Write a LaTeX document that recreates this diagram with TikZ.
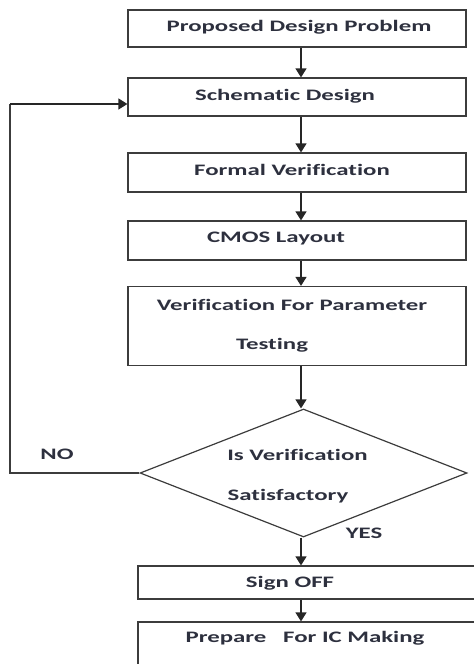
\documentclass[tikz,border=0pt]{standalone}
\usepackage{fontspec}
\setmainfont[FakeStretch=1.55,Ligatures=NoCommon]{Carlito}
\usetikzlibrary{arrows.meta,shapes.geometric}
\definecolor{txt}{RGB}{45,48,62}
\definecolor{ln}{RGB}{60,60,60}
\tikzset{
  box/.style={draw=ln,line width=1.2bp,minimum width=338bp,inner sep=0pt},
  lbl/.style={text=txt,font=\fontsize{16bp}{19bp}\selectfont\bfseries,inner sep=0pt,anchor=center},
  arr/.style={draw=black!85,line width=1.3bp,-{Triangle[width=11bp,length=9bp]}},
  lin/.style={draw=ln,line width=1.2bp}
}
\begin{document}
\begin{tikzpicture}[x=1bp,y=-1bp]
\useasboundingbox (0,0) rectangle (474,664);
% boxes
\node[box,minimum height=37bp] (b1) at (297,28.5) {};
\node[box,minimum height=38bp] (b2) at (297,97) {};
\node[box,minimum height=39bp] (b3) at (297,172.5) {};
\node[box,minimum height=39bp] (b4) at (297,240.5) {};
\node[box,minimum height=79bp] (b5) at (297,326) {};
\node[draw=ln,line width=1.2bp,diamond,minimum width=327bp,minimum height=128bp,inner sep=0pt] (d) at (303.5,473) {};
\node[box,minimum width=342bp,minimum height=33bp] (b6) at (309,582.5) {};
\node[box,minimum width=342bp,minimum height=48bp] (b7) at (309,646) {};
% texts
\node[lbl] (t1) at (299,27) {Proposed Design Problem};
\node[lbl] (t2) at (285,96) {Schematic Design};
\node[lbl] (t3) at (292,170) {Formal Verification};
\node[lbl] (t4) at (276,239) {CMOS Layout};
\node[lbl] (t5a) at (292,305) {Verification For Parameter};
\node[lbl] (t5b) at (272,345) {Testing};
\node[lbl] (td1) at (297.5,455) {Is Verification};
\node[lbl] (td2) at (288,496) {Satisfactory};
\node[lbl] (no) at (57,454) {NO};
\node[lbl] (yes) at (364,533) {YES};
\node[lbl] (t6) at (290,583) {Sign OFF};
\node[lbl] (t7) at (305,638) {Prepare\ \ \ For IC Making};
% connectors
\coordinate (ax) at (301,0);
\draw[arr] (b1.south -| ax) -- (b2.north -| ax);
\draw[arr] (b2.south -| ax) -- (b3.north -| ax);
\draw[arr] (b3.south -| ax) -- (b4.north -| ax);
\draw[arr] (b4.south -| ax) -- (b5.north -| ax);
\draw[arr] (b5.south -| ax) -- (d.north -| ax);
\draw[arr] (d.south -| ax) -- (b6.north -| ax);
\draw[arr] (b6.south -| ax) -- (b7.north -| ax);
\coordinate (lx) at (10,0);
\coordinate (ly) at (0,104);
\draw[lin] (d.west) -- (d.west -| lx) -- (lx |- ly);
\draw[arr] (lx |- ly) -- (b2.west |- ly);
\end{tikzpicture}
\end{document}
